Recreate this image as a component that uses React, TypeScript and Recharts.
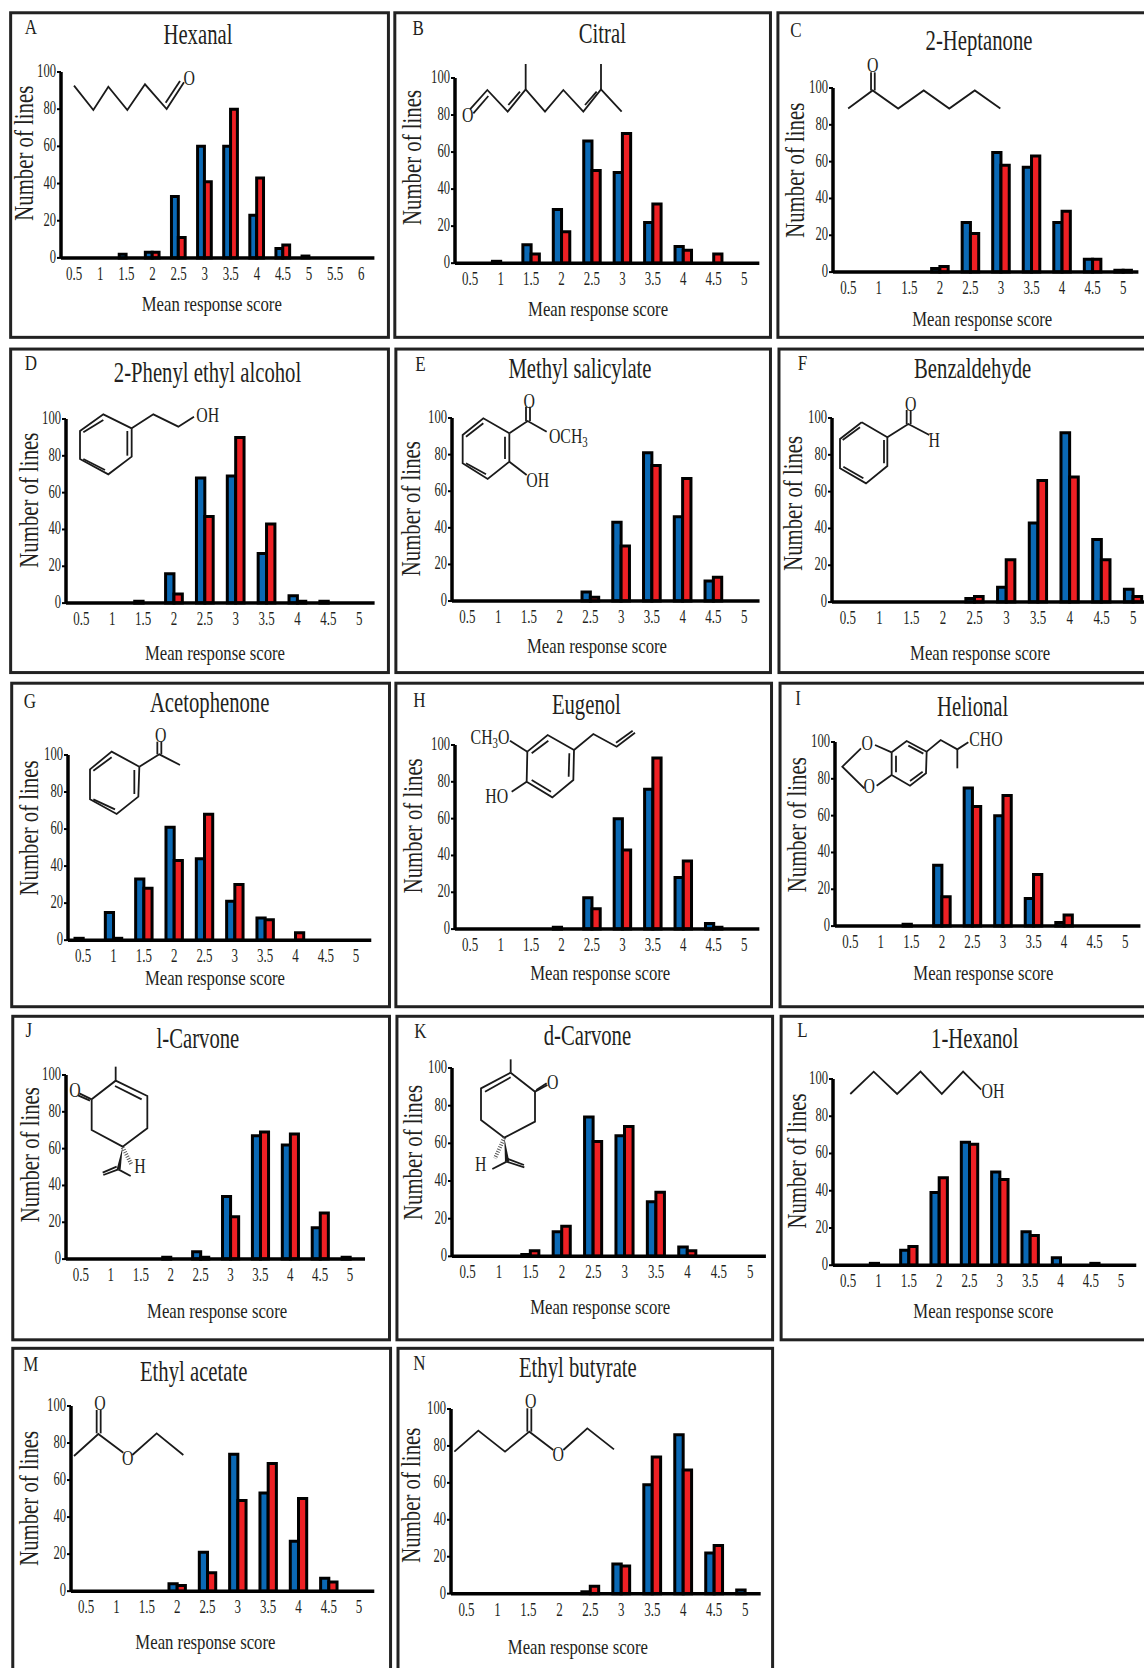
import React from "react";
import { BarChart, Bar, XAxis, YAxis } from "recharts";

const S = 1144 / 1075;
const FONT = "'Liberation Serif', serif";
const INK = "#231f20";
const BLUE = "#0b69b5";
const RED = "#ee2024";

const scores10 = ["0.5", "1", "1.5", "2", "2.5", "3", "3.5", "4", "4.5", "5"];
const scores12 = [...scores10, "5.5", "6"];
const yTicks = [0, 20, 40, 60, 80, 100];

const hexanalBlue = [0, 0, 2, 3, 33, 60, 60, 23, 5, 1, 0, 0];
const hexanalRed = [0, 0, 0, 3, 11, 41, 80, 43, 7, 0, 0, 0];
const citralBlue = [0, 1, 10, 29, 66, 49, 22, 9, 0, 0];
const citralRed = [0, 0, 5, 17, 50, 70, 32, 7, 5, 0];
const heptanoneBlue = [0, 0, 0, 2, 27, 65, 57, 27, 7, 1];
const heptanoneRed = [0, 0, 0, 3, 21, 58, 63, 33, 7, 1];
const phenylBlue = [0, 0, 1, 16, 68, 69, 27, 4, 1, 0];
const phenylRed = [0, 0, 0, 5, 47, 90, 43, 1, 0, 0];
const salicylateBlue = [0, 0, 0, 0, 5, 43, 81, 46, 11, 0];
const salicylateRed = [0, 0, 0, 0, 2, 30, 74, 67, 13, 0];
const benzaldehydeBlue = [0, 0, 0, 0, 2, 8, 43, 92, 34, 7];
const benzaldehydeRed = [0, 0, 0, 0, 3, 23, 66, 68, 23, 3];
const acetophenoneBlue = [1, 15, 33, 61, 44, 21, 12, 0, 0, 0];
const acetophenoneRed = [0, 1, 28, 43, 68, 30, 11, 4, 0, 0];
const eugenolBlue = [0, 0, 0, 1, 17, 60, 76, 28, 3, 0];
const eugenolRed = [0, 0, 0, 0, 11, 43, 93, 37, 1, 0];
const helionalBlue = [0, 0, 1, 33, 75, 60, 15, 2, 0, 0];
const helionalRed = [0, 0, 0, 16, 65, 71, 28, 6, 0, 0];
const lCarvoneBlue = [0, 0, 0, 1, 4, 34, 67, 62, 17, 1];
const lCarvoneRed = [0, 0, 0, 0, 1, 23, 69, 68, 25, 0];
const dCarvoneBlue = [0, 0, 1, 13, 74, 64, 29, 5, 0, 0];
const dCarvoneRed = [0, 0, 3, 16, 61, 69, 34, 3, 0, 0];
const hexanolBlue = [0, 1, 8, 39, 66, 50, 18, 4, 0, 0];
const hexanolRed = [0, 0, 10, 47, 65, 46, 16, 0, 1, 0];
const acetateBlue = [0, 0, 0, 4, 21, 74, 53, 27, 7, 0];
const acetateRed = [0, 0, 0, 3, 10, 49, 69, 50, 5, 0];
const butyrateBlue = [0, 0, 0, 0, 1, 16, 59, 86, 22, 2];
const butyrateRed = [0, 0, 0, 0, 4, 15, 74, 67, 26, 0];

type Mol = {
  ox: number;
  oy: number;
  k: number;
  lines: number[][];
  labels: [number, number, string][];
  wedge?: number[];
  hash?: number[];
};

const hexanalMol: Mol = {
  ox: 0, oy: 0, k: 1 / 3,
  lines: [[222, 257, 280, 330, 325, 260, 382, 330, 435, 253, 500, 327, 552, 247], [497, 308, 540, 243]],
  labels: [[568, 233, "O"]],
};
const citralMol: Mol = {
  ox: 455, oy: 50, k: 1 / 3,
  lines: [
    [45, 178, 97, 120, 158, 185, 212, 118, 270, 185, 325, 120, 385, 185, 438, 118, 500, 185],
    [55, 190, 100, 138], [160, 165, 195, 125], [390, 165, 425, 125], [212, 118, 212, 42], [438, 118, 438, 42],
  ],
  labels: [[38, 192, "O"]],
};
const heptanoneMol: Mol = {
  ox: 0, oy: 0, k: S,
  lines: [[797, 102, 820, 85, 844, 102, 868, 85, 892, 102, 916, 85, 940, 102], [818.5, 85, 818.5, 68], [822, 85, 822, 68]],
  labels: [[820, 61, "O"]],
};
const phenylMol: Mol = {
  ox: 70, oy: 395, k: 1 / 3,
  lines: [
    [185, 100, 100, 58, 30, 108, 30, 192, 115, 238, 185, 185, 185, 100],
    [100, 75, 40, 112], [40, 192, 105, 225], [172, 108, 172, 182], [185, 100, 250, 58, 325, 95, 372, 65],
  ],
  labels: [[413, 57, "OH"]],
};
const salicylateMol: Mol = {
  ox: 450, oy: 385, k: 1 / 3,
  lines: [
    [178, 145, 100, 100, 38, 150, 38, 235, 113, 282, 178, 230, 178, 145],
    [100, 115, 48, 155], [48, 235, 108, 268], [165, 155, 165, 222],
    [178, 145, 233, 108, 290, 140], [228, 108, 228, 65], [240, 108, 240, 65], [178, 230, 230, 270],
  ],
  labels: [[238, 45, "O"], [355, 150, "OCH3"], [263, 282, "OH"]],
};
const benzaldehydeMol: Mol = {
  ox: 770, oy: 340, k: 1 / 3,
  lines: [
    [275, 247, 352, 292, 352, 378, 288, 430, 210, 385, 210, 297, 275, 247],
    [270, 262, 218, 300], [342, 300, 342, 370], [220, 380, 280, 415],
    [352, 292, 415, 252, 478, 285], [410, 252, 410, 210], [422, 252, 422, 210],
  ],
  labels: [[422, 190, "O"], [493, 298, "H"]],
};
const acetophenoneMol: Mol = {
  ox: 80, oy: 720, k: 1 / 3,
  lines: [
    [178, 140, 95, 95, 30, 148, 30, 238, 110, 282, 175, 230, 178, 140],
    [95, 112, 40, 152], [40, 238, 105, 268], [163, 150, 163, 222],
    [178, 140, 238, 103, 300, 135], [232, 103, 232, 65], [244, 103, 244, 65],
  ],
  labels: [[242, 42, "O"]],
};
const eugenolMol: Mol = {
  ox: 450, oy: 710, k: 1 / 3,
  lines: [
    [232, 125, 293, 75, 372, 120, 370, 210, 307, 262, 230, 215, 232, 125],
    [245, 130, 295, 92], [358, 130, 356, 200], [245, 210, 303, 245],
    [232, 125, 180, 92], [230, 215, 185, 245], [372, 120, 430, 72, 500, 110, 555, 68], [498, 98, 548, 62],
  ],
  labels: [[120, 78, "CH3O"], [140, 257, "HO"]],
};
const helionalMol: Mol = {
  ox: 830, oy: 715, k: 1 / 3,
  lines: [
    [185, 112, 230, 78, 290, 110, 288, 175, 240, 212, 185, 180, 185, 112],
    [198, 122, 198, 172], [235, 92, 280, 116], [240, 198, 278, 170],
    [185, 112, 135, 90], [185, 180, 140, 212], [93, 100, 37, 155, 103, 220],
    [290, 110, 332, 75, 382, 103, 415, 82], [382, 103, 382, 160],
  ],
  labels: [[112, 83, "O"], [118, 210, "O"], [468, 70, "CHO"]],
};
const lCarvoneMol: Mol = {
  ox: 60, oy: 1050, k: 1 / 3,
  lines: [
    [95, 148, 167, 92, 262, 138, 262, 235, 188, 290, 95, 240, 95, 148],
    [165, 108, 245, 148], [95, 148, 58, 130], [90, 152, 54, 136], [167, 92, 167, 50],
    [175, 358, 130, 375], [170, 350, 128, 368], [175, 358, 212, 378],
  ],
  labels: [[45, 118, "O"], [240, 347, "H"]],
  wedge: [188, 290, 170, 358, 182, 358],
  hash: [188, 292, 215, 345],
};
const dCarvoneMol: Mol = {
  ox: 460, oy: 1050, k: 1 / 3,
  lines: [
    [152, 68, 225, 125, 225, 215, 133, 263, 63, 210, 63, 115, 152, 68],
    [152, 82, 75, 125], [225, 125, 262, 105], [229, 120, 260, 100], [152, 68, 152, 28],
    [140, 335, 97, 357], [140, 335, 193, 352], [142, 326, 192, 345],
  ],
  labels: [[278, 95, "O"], [62, 340, "H"]],
  wedge: [133, 263, 135, 335, 148, 335],
  hash: [133, 263, 105, 325],
};
const hexanolMol: Mol = {
  ox: 0, oy: 0, k: S,
  lines: [[799, 1028, 821, 1007, 843, 1028, 865, 1007, 885, 1028, 905, 1007, 922, 1024]],
  labels: [[933, 1025, "OH"]],
};
const acetateMol: Mol = {
  ox: 60, oy: 1380, k: 1 / 3,
  lines: [[42, 228, 115, 162, 190, 218], [217, 225, 290, 160, 370, 225], [110, 160, 110, 90], [122, 160, 122, 90]],
  labels: [[120, 68, "O"], [203, 232, "O"]],
};
const butyrateMol: Mol = {
  ox: 390, oy: 1340, k: 1 / 3,
  lines: [
    [193, 335, 265, 272, 345, 335, 418, 275, 490, 330], [520, 330, 592, 265, 672, 328],
    [412, 275, 412, 205], [424, 275, 424, 205],
  ],
  labels: [[422, 180, "O"], [505, 340, "O"]],
};

// All layout figures below are in the coordinates of the 1075-wide preview, scaled by S.
type Panel = {
  letter: string; title: string; cats: string[]; blue: number[]; red: number[]; mol: Mol;
  box: number[]; axis: number[]; titleAt: number[]; letterAt: number[]; xl: number[]; yl: number[];
};
const panels: Panel[] = [
  { letter: "A", title: "Hexanal", cats: scores12, blue: hexanalBlue, red: hexanalRed, mol: hexanalMol,
    box: [10, 12, 365, 317], axis: [57, 67.7, 242.4, 351.5], titleAt: [186, 32], letterAt: [29, 25], xl: [199, 286], yl: [23, 144] },
  { letter: "B", title: "Citral", cats: scores10, blue: citralBlue, red: citralRed, mol: citralMol,
    box: [371, 12, 724, 317], axis: [428, 73, 247, 714], titleAt: [566, 31], letterAt: [393, 26], xl: [562, 290], yl: [387, 148] },
  { letter: "C", title: "2-Heptanone", cats: scores10, blue: heptanoneBlue, red: heptanoneRed, mol: heptanoneMol,
    box: [731, 12, 1090, 317], axis: [783, 83, 256, 1070], titleAt: [920, 38], letterAt: [748, 28], xl: [923, 300], yl: [747, 160] },
  { letter: "D", title: "2-Phenyl ethyl alcohol", cats: scores10, blue: phenylBlue, red: phenylRed, mol: phenylMol,
    box: [10, 328, 365, 632], axis: [62, 394, 567, 352], titleAt: [195, 350], letterAt: [29, 341], xl: [202, 614], yl: [27, 470] },
  { letter: "E", title: "Methyl salicylate", cats: scores10, blue: salicylateBlue, red: salicylateRed, mol: salicylateMol,
    box: [372, 328, 724, 632], axis: [425, 393, 565, 714], titleAt: [545, 346], letterAt: [395, 342], xl: [561, 607], yl: [386, 478] },
  { letter: "F", title: "Benzaldehyde", cats: scores10, blue: benzaldehydeBlue, red: benzaldehydeRed, mol: benzaldehydeMol,
    box: [732, 328, 1090, 632], axis: [782, 393, 566, 1080], titleAt: [914, 346], letterAt: [754, 341], xl: [921, 614], yl: [745, 473] },
  { letter: "G", title: "Acetophenone", cats: scores10, blue: acetophenoneBlue, red: acetophenoneRed, mol: acetophenoneMol,
    box: [11, 642, 366, 946], axis: [64, 709, 883, 349], titleAt: [197, 660], letterAt: [28, 659], xl: [202, 919], yl: [27, 778] },
  { letter: "H", title: "Eugenol", cats: scores10, blue: eugenolBlue, red: eugenolRed, mol: eugenolMol,
    box: [372, 642, 725, 946], axis: [428, 700, 873, 714], titleAt: [551, 662], letterAt: [394, 658], xl: [564, 914], yl: [388, 776] },
  { letter: "I", title: "Helional", cats: scores10, blue: helionalBlue, red: helionalRed, mol: helionalMol,
    box: [733, 642, 1090, 946], axis: [785, 697, 870, 1072], titleAt: [914, 663], letterAt: [750, 656], xl: [924, 914], yl: [749, 775] },
  { letter: "J", title: "l-Carvone", cats: scores10, blue: lCarvoneBlue, red: lCarvoneRed, mol: lCarvoneMol,
    box: [12, 955, 366, 1259], axis: [62, 1010, 1183, 343], titleAt: [186, 975], letterAt: [27, 968], xl: [204, 1232], yl: [28, 1085] },
  { letter: "K", title: "d-Carvone", cats: scores10, blue: dCarvoneBlue, red: dCarvoneRed, mol: dCarvoneMol,
    box: [373, 955, 726, 1259], axis: [425, 1004, 1181, 720], titleAt: [552, 973], letterAt: [395, 969], xl: [564, 1228], yl: [388, 1083] },
  { letter: "L", title: "1-Hexanol", cats: scores10, blue: hexanolBlue, red: hexanolRed, mol: hexanolMol,
    box: [734, 955, 1090, 1259], axis: [783, 1014, 1189, 1068], titleAt: [916, 975], letterAt: [754, 968], xl: [924, 1232], yl: [749, 1091] },
  { letter: "M", title: "Ethyl acetate", cats: scores10, blue: acetateBlue, red: acetateRed, mol: acetateMol,
    box: [12, 1267, 367, 1600], axis: [67, 1321, 1495, 352], titleAt: [182, 1288], letterAt: [29, 1282], xl: [193, 1543], yl: [27, 1408] },
  { letter: "N", title: "Ethyl butyrate", cats: scores10, blue: butyrateBlue, red: butyrateRed, mol: butyrateMol,
    box: [374, 1267, 726, 1600], axis: [424, 1324, 1497.5, 715], titleAt: [543, 1285], letterAt: [394, 1281], xl: [543, 1548], yl: [386, 1405] },
];

const XTick = ({ x, y, payload }: any) => (
  <text transform={`translate(${x},${y + 16}) scale(0.72,1)`} textAnchor="middle" fontFamily={FONT} fontSize={18} fill={INK}>
    {payload.value}
  </text>
);
const YTick = ({ x, y, payload }: any) => (
  <text transform={`translate(${x + 1},${y + 5}) scale(0.7,1)`} textAnchor="end" fontFamily={FONT} fontSize={18} fill={INK}>
    {payload.value}
  </text>
);

const Chart = ({ p }: { p: Panel }) => {
  const [ax, top, bottom, right] = p.axis.map((v) => v * S);
  const ML = 42, MT = 10, MR = 6, MB = 32;
  const rows = p.cats.map((c, i) => ({ score: c, blue: p.blue[i], red: p.red[i] }));
  const step = (right - ax) / p.cats.length;
  const bar = (0.64 * step - 3) / 2;
  return (
    <div style={{ position: "absolute", left: ax - ML, top: top - MT }}>
      <BarChart
        width={right - ax + ML + MR}
        height={bottom - top + MT + MB}
        data={rows}
        margin={{ left: 0, top: MT, right: MR, bottom: 0 }}
        barGap={0}
      >
        <XAxis dataKey="score" interval={0} height={MB} tickLine={false} axisLine={{ stroke: "#000", strokeWidth: 3.5 }} tick={<XTick />} tickMargin={0} />
        <YAxis width={ML} domain={[0, 100]} ticks={yTicks} interval={0} tickSize={4} tickLine={{ stroke: "#000", strokeWidth: 2 }} axisLine={{ stroke: "#000", strokeWidth: 3.5 }} tick={<YTick />} tickMargin={2} />
        <Bar dataKey="blue" fill={BLUE} stroke="#000" strokeWidth={3} barSize={bar} isAnimationActive={false} />
        <Bar dataKey="red" fill={RED} stroke="#000" strokeWidth={3} barSize={bar} isAnimationActive={false} />
      </BarChart>
    </div>
  );
};

const Sub = ({ text }: { text: string }) => {
  const parts = text.split(/(\d)/).filter(Boolean);
  let low = false;
  return (
    <>
      {parts.map((t, i) => {
        const digit = /\d/.test(t);
        const dy = digit ? 4 : low ? -4 : 0;
        low = digit;
        return <tspan key={i} dy={dy} fontSize={digit ? 15 : 22}>{t}</tspan>;
      })}
    </>
  );
};

const Molecule = ({ m }: { m: Mol }) => {
  const px = (v: number) => m.ox + v * m.k;
  const py = (v: number) => m.oy + v * m.k;
  const pts = (a: number[]) => a.map((v, i) => (i % 2 ? py(v) : px(v))).join(" ");
  return (
    <g>
      {m.lines.map((l, i) => (
        <polyline key={i} points={pts(l)} fill="none" stroke="#1a1a1a" strokeWidth={1.8} strokeLinejoin="miter" />
      ))}
      {m.wedge && <polygon points={pts(m.wedge)} fill="#1a1a1a" />}
      {m.hash && <polyline points={pts(m.hash)} fill="none" stroke="#555" strokeWidth={4} strokeDasharray="1 1.5" />}
      {m.labels.map(([x, y, t], i) => (
        <text key={i} transform={`translate(${px(x)},${py(y) + 7.5}) scale(0.72,1)`} textAnchor="middle" fontFamily={FONT} fontSize={22} fill={INK}>
          <Sub text={t} />
        </text>
      ))}
    </g>
  );
};

const Overlay = ({ p }: { p: Panel }) => {
  const [x0, y0, x1, y1] = p.box.map((v) => v * S);
  return (
    <g>
      <rect x={x0} y={y0} width={x1 - x0} height={y1 - y0} fill="none" stroke="#222" strokeWidth={3} />
      <text transform={`translate(${p.letterAt[0] * S},${p.letterAt[1] * S + 7}) scale(0.85,1)`} textAnchor="middle" fontFamily={FONT} fontSize={20} fill={INK}>{p.letter}</text>
      <text transform={`translate(${p.titleAt[0] * S},${p.titleAt[1] * S + 10}) scale(0.69,1)`} textAnchor="middle" fontFamily={FONT} fontSize={30} fill={INK}>{p.title}</text>
      <text transform={`translate(${p.xl[0] * S},${p.xl[1] * S + 7}) scale(0.76,1)`} textAnchor="middle" fontFamily={FONT} fontSize={22} fill={INK}>Mean response score</text>
      <text transform={`translate(${p.yl[0] * S + 9},${p.yl[1] * S}) rotate(-90) scale(0.77,1)`} textAnchor="middle" fontFamily={FONT} fontSize={27} fill={INK}>Number of lines</text>
      <Molecule m={p.mol} />
    </g>
  );
};

export default function App() {
  return (
    <div style={{ position: "absolute", left: 0, top: 0, width: 1144, height: 1668, overflow: "hidden", background: "#fff" }}>
      {panels.map((p) => (
        <Chart key={p.letter} p={p} />
      ))}
      <svg width={1144} height={1668} style={{ position: "absolute", left: 0, top: 0, pointerEvents: "none" }}>
        {panels.map((p) => (
          <Overlay key={p.letter} p={p} />
        ))}
      </svg>
    </div>
  );
}
